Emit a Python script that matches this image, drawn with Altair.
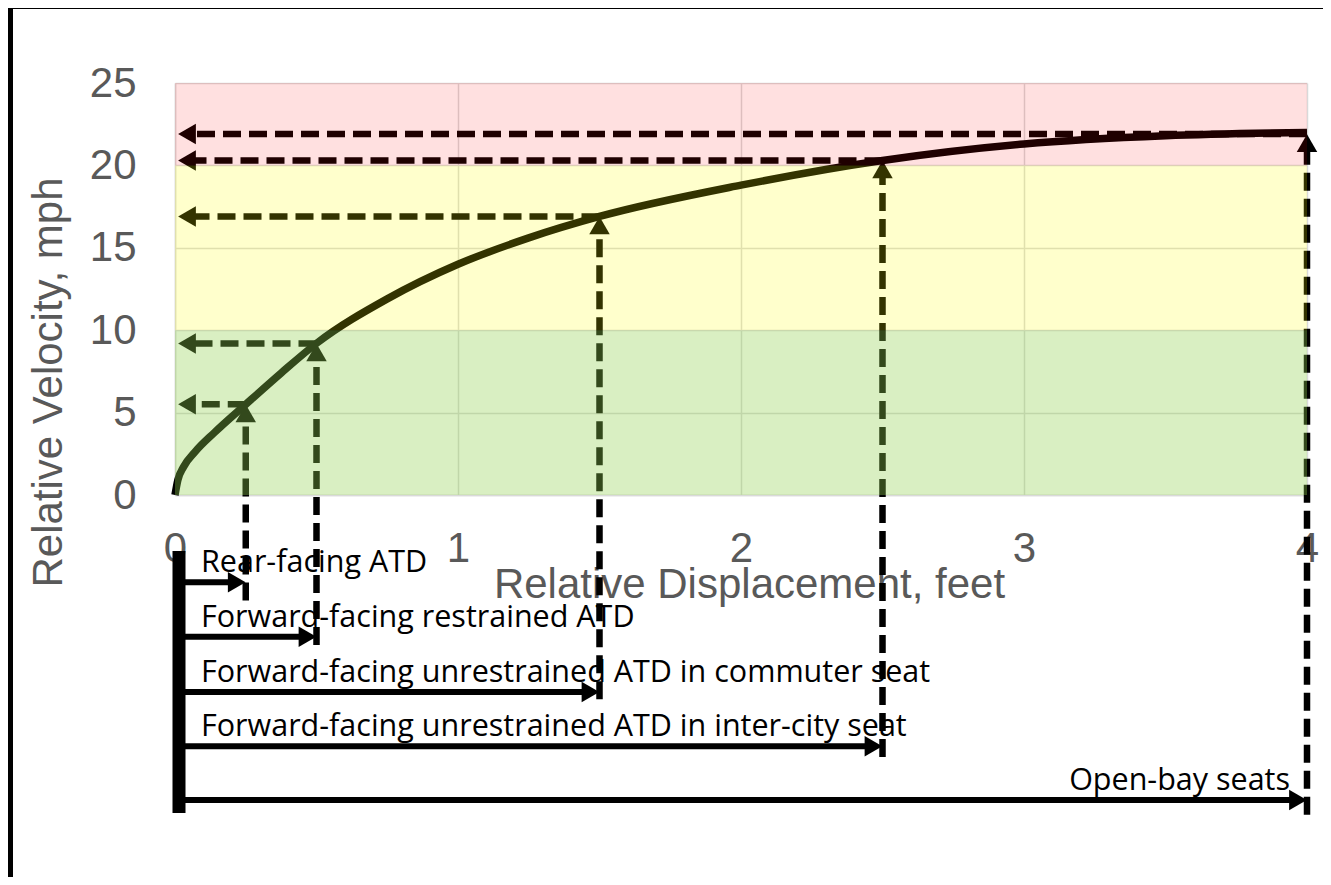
import altair as alt
import pandas as pd

# ---- data ----
curve_disp = [0, 0.01, 0.03, 0.07, 0.14, 0.25, 0.375, 0.5, 0.75, 1.0, 1.25, 1.5, 2.0, 2.5, 3.0, 3.5, 4.0]
curve_vel = [0, 0.9, 1.7, 2.6, 3.8, 5.5, 7.4, 9.2, 11.9, 14.0, 15.6, 16.9, 18.8, 20.3, 21.3, 21.8, 22.0]

case_labels = [
    "Rear-facing ATD",
    "Forward-facing restrained ATD",
    "Forward-facing unrestrained ATD in commuter seat",
    "Forward-facing unrestrained ATD in inter-city seat",
    "Open-bay seats",
]
case_disp = [0.25, 0.5, 1.5, 2.5, 4.0]
case_vel = [5.5, 9.2, 16.9, 20.3, 21.9]
row_level = [-5.3, -8.6, -11.95, -15.25, -18.5]
drop_end = [-6.4, -9.1, -12.4, -15.9, -19.4]
bar_span = [-3.4, -19.3]

band_lo = [0, 10, 20]
band_hi = [10, 20, 25]
band_color = ["#92D050", "#FFFF00", "#FF0000"]
band_opacity = [0.35, 0.2, 0.12]

x_ticks = [0, 1, 2, 3, 4]
y_ticks = [0, 5, 10, 15, 20, 25]

curve = pd.DataFrame({"d": curve_disp, "v": curve_vel})
cases = pd.DataFrame({"label": case_labels, "d": case_disp, "v": case_vel,
                      "row": row_level, "end": drop_end})
bands = pd.DataFrame({"lo": band_lo, "hi": band_hi, "c": band_color, "op": band_opacity})
bar = pd.DataFrame({"top": [bar_span[0]], "bot": [bar_span[1]]})

XT = "Relative Displacement, feet"
YT = "Relative Velocity, mph"
XS = alt.Scale(domain=[0, 4], nice=False, zero=False)
YS = alt.Scale(domain=[0, 25], nice=False, zero=False)
AXX = alt.Axis(values=x_ticks, grid=True)
AXY = alt.Axis(values=y_ticks, grid=True)


def X(f):
    return alt.X(f, type="quantitative", scale=XS, axis=AXX, title=XT)


def Y(f):
    return alt.Y(f, type="quantitative", scale=YS, axis=AXY, title=YT)


DASH = [18, 8]
HEAD = 420

line = alt.Chart(curve).mark_line(color="black", strokeWidth=7.5, interpolate="monotone").encode(
    x=X("d"), y=Y("v"))

base_cases = alt.Chart(cases).transform_calculate(zero="0", four="4")

h_dash = base_cases.mark_rule(color="black", strokeWidth=6.5, strokeDash=DASH, x2Offset=12).encode(
    x=X("d"), x2="zero:Q", y=Y("v"))
h_head = base_cases.mark_point(shape="triangle-left", filled=True, size=HEAD, color="black",
                               opacity=1, xOffset=12).encode(
    x=X("zero"), y=Y("v"))

v_dash = base_cases.mark_rule(color="black", strokeWidth=6.5, strokeDash=DASH, y2Offset=12).encode(
    x=X("d"), y=Y("end"), y2="v:Q")
v_head = base_cases.mark_point(shape="triangle-up", filled=True, size=HEAD, color="black",
                               opacity=1, yOffset=9).encode(
    x=X("d"), y=Y("v"))

b_arrow = base_cases.mark_rule(color="black", strokeWidth=6, x2Offset=-12).encode(
    x=X("zero"), x2="d:Q", y=Y("row"))
b_head = base_cases.mark_point(shape="triangle-right", filled=True, size=HEAD, color="black",
                               opacity=1, xOffset=-9).encode(
    x=X("d"), y=Y("row"))

bar_rule = alt.Chart(bar).transform_calculate(zero="0").mark_rule(
    color="black", strokeWidth=13, xOffset=4).encode(
    x=X("zero"), y=Y("top"), y2="bot:Q")

TXT = dict(font="Open Sans", fontSize=30.5, color="black", baseline="alphabetic", dy=-10)
texts_left = base_cases.transform_filter("datum.d < 4").mark_text(align="left", dx=26, **TXT).encode(
    x=X("zero"), y=Y("row"), text="label:N")
texts_right = base_cases.transform_filter("datum.d >= 4").mark_text(align="right", dx=-17, **TXT).encode(
    x=X("d"), y=Y("row"), text="label:N")

band_rect = alt.Chart(bands).transform_calculate(zero="0", four="4").mark_rect().encode(
    x=X("zero"), x2="four:Q", y=Y("lo"), y2="hi:Q",
    color=alt.Color("c:N", scale=None), opacity=alt.Opacity("op:Q", scale=None))

frame_top = alt.Chart(bar).mark_rule(color="black", strokeWidth=2).encode(
    x=alt.value(-175), x2=alt.value(1160), y=alt.value(-75))
frame_left = alt.Chart(bar).mark_rule(color="black", strokeWidth=6).encode(
    x=alt.value(-165), y=alt.value(-80), y2=alt.value(800))

chart = alt.layer(
    line, h_dash, v_dash, h_head, v_head, b_arrow, b_head, bar_rule,
    texts_left, texts_right, band_rect, frame_top, frame_left,
).properties(
    width=1132, height=412,
    autosize=alt.AutoSizeParams(type="none"),
    padding={"left": 167, "top": 75, "right": 16, "bottom": 382},
).configure_view(stroke=None).configure_axis(
    labelFont="Liberation Sans", labelFontSize=42, labelColor="#595959",
    titleFont="Liberation Sans", titleFontSize=42, titleColor="#595959", titleFontWeight="normal",
    ticks=False, tickSize=0, domainColor="#d9d9d9", domainWidth=1.5,
    gridColor="#d9d9d9", gridWidth=1.5, labelFlush=False, labelOverlap=False, labelBound=False,
).configure_axisX(
    labelPadding=33, titleX=574, titleY=102, titleBaseline="alphabetic", titleAlign="center",
).configure_axisY(
    labelPadding=39, titleX=-114, titleY=299, titleAngle=270, titleBaseline="alphabetic",
    titleAlign="center",
)

chart.save("out.html", embed_options={"renderer": "svg", "actions": False})
